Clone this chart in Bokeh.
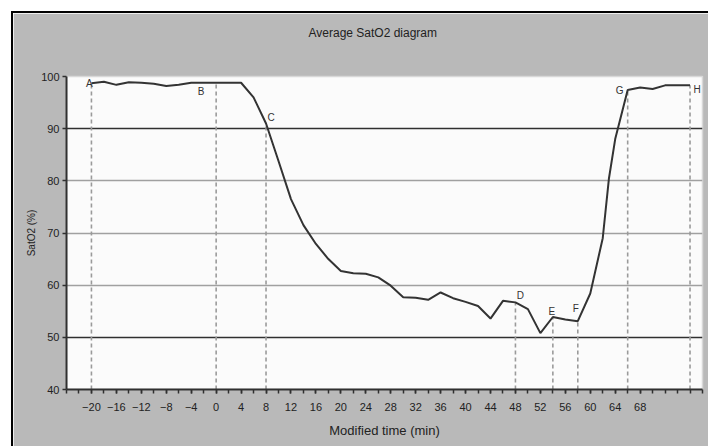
from bokeh.plotting import figure
from bokeh.models import Range1d, FixedTicker, ColumnDataSource, Title
from bokeh.embed import file_html
from bokeh.resources import INLINE
from bokeh.core.properties import value
import numpy as np

# ---- data ----
times = [-20, -18, -16, -14, -12, -10, -8, -6, -4, -2, 0, 2, 4, 6, 8, 10, 12, 14,
         16, 18, 20, 22, 24, 26, 28, 30, 32, 34, 36, 38, 40, 42, 44, 46, 48, 50,
         52, 54, 56, 58, 60, 62, 63, 64, 66, 68, 70, 72, 74, 76]
sat = [98.7, 99.0, 98.4, 98.9, 98.8, 98.6, 98.2, 98.4, 98.8, 98.8, 98.8, 98.8, 98.8,
       96.0, 91.0, 83.8, 76.5, 71.5, 67.9, 65.0, 62.7, 62.3, 62.2, 61.5, 59.9, 57.7,
       57.6, 57.2, 58.6, 57.5, 56.8, 56.0, 53.6, 57.0, 56.7, 55.4, 50.8, 53.9, 53.4,
       53.1, 58.4, 69.0, 80.5, 88.0, 97.4, 97.9, 97.6, 98.3, 98.3, 98.3]
event_labels = ["A", "B", "C", "D", "E", "F", "G", "H"]
event_times = [-20, 0, 8, 48, 54, 58, 66, 76]
x_label_ticks = list(range(-20, 69, 4))
x_minor_ticks = list(range(-24, 79, 2))
y_ticks = [40, 50, 60, 70, 80, 90, 100]
dark_levels = [50, 90]
light_levels = [60, 70, 80]
title_text = "Average SatO2 diagram"

# label offsets (style)
lab_dx = [-2, -15, 5, 5, -1, -2, -8, 7]
lab_dy = [0, 9, -6, -7, -5, -13, 0, 4]

event_vals = list(np.interp(event_times, times, sat))

FONT = "Liberation Sans"
BG = "#b9b9b9"

p = figure(width=697, height=435, output_backend="svg", toolbar_location=None,
           x_range=Range1d(-24, 78), y_range=Range1d(40, 100),
           min_border_left=53, min_border_right=8, min_border_top=63,
           min_border_bottom=59)
p.margin = (11, 0, 0, 11)
p.styles = {"border-top": "2px solid black", "border-left": "2px solid black"}
p.border_fill_color = BG
p.background_fill_color = "#fbfbfb"
p.outline_line_color = "#d8d8d8"
p.outline_line_width = 1.5

# spacer (closest to the frame), then the real title above it
p.add_layout(Title(text=" ", text_font=FONT, text_font_size="12px", standoff=19), "above")
p.add_layout(Title(text=title_text, align="left", offset=242, vertical_align="top",
                   standoff=0, text_font=FONT, text_font_size="12px",
                   text_font_style="normal", text_color="#222222"), "above")

p.xgrid.visible = False
p.ygrid.visible = False

p.hspan(y=light_levels, line_color="#a0a0a0", line_width=1.6)
p.hspan(y=dark_levels, line_color="#303030", line_width=1.6)

p.segment(x0=event_times, y0=[40] * len(event_times), x1=event_times, y1=event_vals,
          line_color="#9a9a9a", line_width=1.6, line_dash="4 3")

p.line(times, sat, line_color="#333333", line_width=2)

src = ColumnDataSource(dict(x=event_times, y=event_vals, t=event_labels,
                            dx=lab_dx, dy=lab_dy))
p.text(x="x", y="y", text="t", source=src, x_offset="dx", y_offset="dy",
       text_align="center", text_baseline="middle", text_font=value(FONT),
       text_font_size="10px", text_color="#333333")

# axes
p.xaxis.ticker = FixedTicker(ticks=x_label_ticks, minor_ticks=x_minor_ticks)
p.xaxis.major_label_overrides = {t: (str(t).replace("-", "\u2212")) for t in x_label_ticks}
p.yaxis.ticker = FixedTicker(ticks=y_ticks)
for ax in (p.xaxis[0], p.yaxis[0]):
    ax.axis_line_color = "#303030"
    ax.axis_line_width = 2
    ax.major_tick_line_color = "#303030"
    ax.minor_tick_line_color = "#303030"
    ax.major_tick_line_width = 1.5
    ax.minor_tick_line_width = 1.5
    ax.major_tick_in = 0
    ax.major_tick_out = 4
    ax.minor_tick_in = 0
    ax.minor_tick_out = 4
    ax.major_label_text_font = FONT
    ax.major_label_text_font_size = "11px"
    ax.major_label_text_color = "#222222"
    ax.axis_label_text_font = FONT
    ax.axis_label_text_font_style = "normal"
    ax.axis_label_text_color = "#222222"
p.yaxis.minor_tick_line_color = None
p.xaxis.major_label_standoff = 9
p.yaxis.major_label_standoff = 3
p.xaxis.axis_label = "Modified time (min)"
p.xaxis.axis_label_text_font_size = "13px"
p.xaxis.axis_label_standoff = 9
p.yaxis.axis_label = "SatO2 (%)"
p.yaxis.axis_label_text_font_size = "10px"
p.yaxis.axis_label_standoff = 1

open("out.html", "w").write(file_html(p, INLINE))
